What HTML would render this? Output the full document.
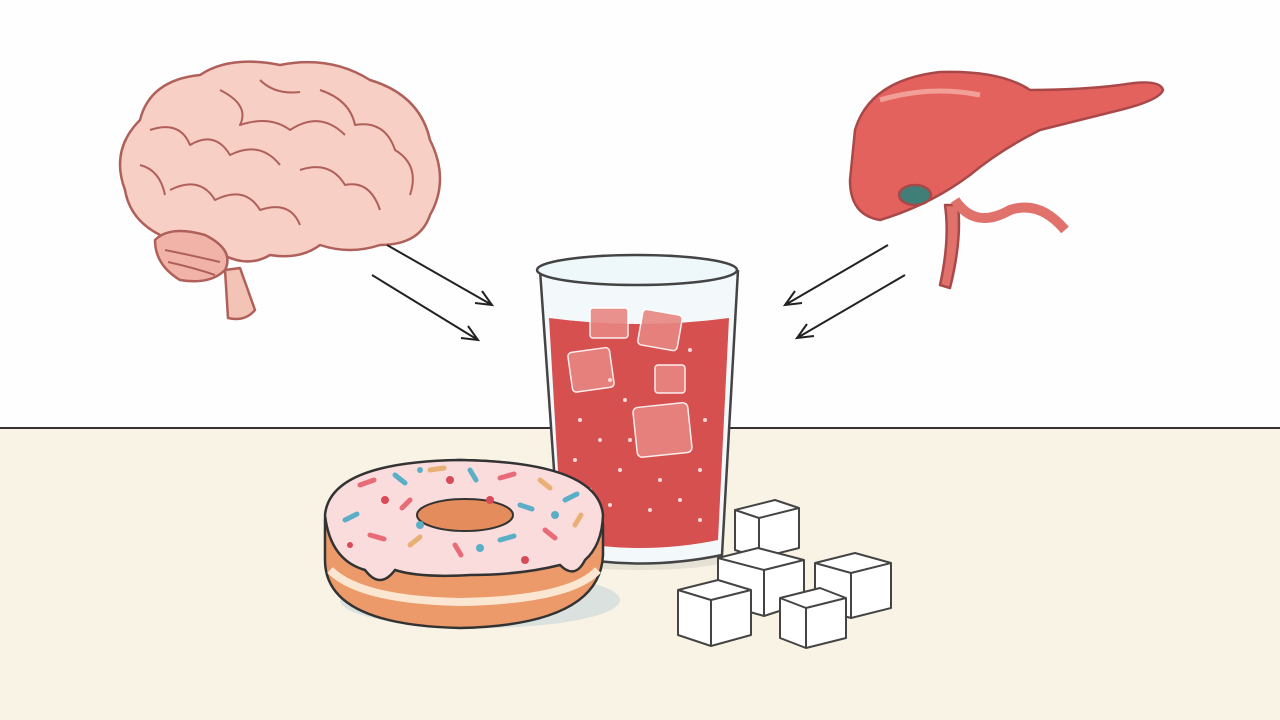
<!DOCTYPE html>
<html><head><meta charset="utf-8"><style>
html,body{margin:0;padding:0;width:1280px;height:720px;overflow:hidden;background:#fff}
</style></head><body>
<svg width="1280" height="720" viewBox="0 0 1280 720" xmlns="http://www.w3.org/2000/svg">
<rect x="0" y="0" width="1280" height="428" fill="#fefefe"/>
<rect x="0" y="428" width="1280" height="292" fill="#f8f3e4"/>
<line x1="0" y1="428" x2="1280" y2="428" stroke="#333" stroke-width="2"/>

<!-- Brain -->
<g stroke="#b0605a" stroke-width="2.5" fill="#f7cfc4" stroke-linejoin="round">
<path d="M225 270 L240 268 L255 310 Q245 322 228 318 Z" fill="#f3c3b6"/>
<path d="M125 190 Q110 150 140 120 Q150 80 200 75 Q230 55 280 65 Q330 55 370 80 Q420 95 430 140 Q450 180 430 215 Q420 245 380 245 Q350 255 320 245 Q300 260 270 255 Q245 270 215 250 Q180 250 160 235 Q130 220 125 190 Z"/>
<path d="M155 240 Q170 225 205 235 Q235 250 225 270 Q210 285 180 280 Q155 265 155 240 Z" fill="#f1b3a8"/>
<g fill="none" stroke-width="2">
<path d="M150 130 Q180 120 190 145 Q215 130 230 155 Q260 140 280 165"/>
<path d="M170 190 Q200 175 215 200 Q245 185 260 210 Q290 200 300 225"/>
<path d="M220 90 Q250 105 240 125 Q270 115 290 130 Q320 110 345 135"/>
<path d="M320 90 Q350 100 355 125 Q385 120 395 150 Q420 165 410 195"/>
<path d="M300 170 Q330 160 345 185 Q370 180 380 210"/>
<path d="M140 165 Q160 170 165 195"/>
<path d="M260 80 Q275 95 300 92"/>
<path d="M165 250 Q190 255 220 262 M168 262 Q195 268 215 275"/>
</g>
</g>

<!-- Liver / pancreas -->
<g stroke="#a94848" stroke-width="2.5" stroke-linejoin="round">
<path d="M945 205 Q950 240 940 285 L950 288 Q962 240 958 205 Z" fill="#e0716b"/>
<path d="M955 200 Q975 230 1010 210 Q1040 200 1065 230" fill="none" stroke="#e0716b" stroke-width="10"/>
<path d="M855 130 Q870 80 940 72 Q1000 70 1030 90 Q1080 90 1120 85 Q1160 78 1163 90 Q1160 100 1120 110 Q1080 120 1040 130 Q1000 150 970 175 Q930 205 880 220 Q850 215 850 180 Z" fill="#e3625e"/>
<ellipse cx="915" cy="195" rx="16" ry="10" fill="#3f7f77"/>
<path d="M880 100 Q930 85 980 95" fill="none" stroke="#f29f98" stroke-width="5"/>
</g>

<!-- Arrows -->
<g stroke="#222" stroke-width="2" fill="none">
<path d="M387 245 L492 305 M475 303 L492 305 L482 291"/>
<path d="M372 275 L478 340 M461 338 L478 340 L468 326"/>
<path d="M888 245 L785 305 M802 303 L785 305 L795 291"/>
<path d="M905 275 L797 338 M814 336 L797 338 L807 324"/>
</g>

<!-- Glass -->
<ellipse cx="640" cy="560" rx="85" ry="10" fill="#d9d5cc" opacity="0.6"/>
<path d="M540 270 L560 555 Q640 572 722 555 L738 270" fill="#f3f9fb" stroke="#444" stroke-width="2.5"/>
<path d="M549 318 L562 540 Q640 556 718 540 L729 318 Q640 330 549 318 Z" fill="#d6504f"/>
<ellipse cx="637" cy="270" rx="100" ry="15" fill="#eef7fa" stroke="#444" stroke-width="2.5"/>
<g fill="#f2a9a5" opacity="0.9" stroke="#fff" stroke-width="1.5">
<rect x="570" y="350" width="42" height="40" rx="4" transform="rotate(-8 590 370)" fill="#e88682"/>
<rect x="640" y="312" width="40" height="36" rx="4" transform="rotate(10 660 330)" fill="#e88682"/>
<rect x="635" y="405" width="55" height="50" rx="5" transform="rotate(-6 662 430)" fill="#e88682"/>
<rect x="655" y="365" width="30" height="28" rx="3" fill="#e88682"/>
<rect x="590" y="308" width="38" height="30" rx="3" fill="#e88682"/>
</g>
<g fill="#fbd8d6">
<circle cx="580" cy="420" r="2"/><circle cx="600" cy="440" r="2"/><circle cx="620" cy="470" r="2"/><circle cx="590" cy="490" r="2"/><circle cx="610" cy="505" r="2"/><circle cx="660" cy="480" r="2"/><circle cx="680" cy="500" r="2"/><circle cx="700" cy="470" r="2"/><circle cx="705" cy="420" r="2"/><circle cx="625" cy="400" r="2"/><circle cx="575" cy="460" r="2"/><circle cx="650" cy="510" r="2"/><circle cx="690" cy="350" r="2"/><circle cx="610" cy="380" r="2"/><circle cx="700" cy="520" r="2"/><circle cx="630" cy="440" r="2"/>
</g>

<!-- Donut -->
<ellipse cx="480" cy="600" rx="140" ry="28" fill="#cfd8dc" opacity="0.7"/>
<path d="M325 520 Q325 465 460 460 Q600 462 603 525 L603 555 Q600 625 460 628 Q325 625 325 560 Z" fill="#ec9a6a" stroke="#333" stroke-width="2.5"/>
<path d="M330 570 Q360 600 460 602 Q570 600 598 570" fill="none" stroke="#fbe6d2" stroke-width="8"/>
<path d="M325 515 Q330 462 460 460 Q598 462 603 515 Q602 545 585 560 Q575 580 560 565 Q520 575 470 575 Q420 578 395 570 Q380 590 365 570 Q330 560 325 515 Z" fill="#fbdcdc" stroke="#333" stroke-width="2.5"/>
<ellipse cx="465" cy="515" rx="48" ry="16" fill="#e58c5c" stroke="#333" stroke-width="2"/>
<g stroke-width="5" stroke-linecap="round">
<path d="M360 485 l14 -5" stroke="#e86b78"/><path d="M395 475 l10 8" stroke="#5aaec6"/><path d="M430 470 l14 -2" stroke="#e8b074"/>
<path d="M470 470 l6 10" stroke="#5aaec6"/><path d="M500 478 l14 -4" stroke="#e86b78"/><path d="M540 480 l10 8" stroke="#e8b074"/>
<path d="M565 500 l12 -6" stroke="#5aaec6"/><path d="M345 520 l12 -6" stroke="#5aaec6"/><path d="M370 535 l14 4" stroke="#e86b78"/>
<path d="M410 545 l10 -8" stroke="#e8b074"/><path d="M455 545 l6 10" stroke="#e86b78"/><path d="M500 540 l14 -4" stroke="#5aaec6"/>
<path d="M545 530 l10 8" stroke="#e86b78"/><path d="M575 525 l6 -10" stroke="#e8b074"/><path d="M410 500 l-8 8" stroke="#e86b78"/>
<path d="M520 505 l12 4" stroke="#5aaec6"/>
</g>
<g fill="#d84a58"><circle cx="385" cy="500" r="4"/><circle cx="490" cy="500" r="4"/><circle cx="450" cy="480" r="4"/><circle cx="525" cy="560" r="4"/><circle cx="350" cy="545" r="3"/></g>
<g fill="#5aaec6"><circle cx="420" cy="525" r="4"/><circle cx="555" cy="515" r="4"/><circle cx="480" cy="548" r="4"/><circle cx="420" cy="470" r="3"/></g>

<!-- Sugar cubes -->
<g stroke="#444" stroke-width="2" stroke-linejoin="round">
<g transform="translate(735,500)"><path d="M0 10 L40 0 L64 8 L64 48 L24 58 L0 50 Z" fill="#fff"/><path d="M0 10 L24 18 L64 8 M24 18 L24 58" fill="none"/></g>
<g transform="translate(718,548)"><path d="M0 10 L40 0 L86 12 L86 55 L46 68 L0 55 Z" fill="#fff"/><path d="M0 10 L46 22 L86 12 M46 22 L46 68" fill="none"/></g>
<g transform="translate(815,553)"><path d="M0 10 L40 0 L76 10 L76 55 L36 65 L0 55 Z" fill="#fff"/><path d="M0 10 L36 20 L76 10 M36 20 L36 65" fill="none"/></g>
<g transform="translate(678,580)"><path d="M0 10 L40 0 L73 10 L73 55 L33 66 L0 55 Z" fill="#fff"/><path d="M0 10 L33 20 L73 10 M33 20 L33 66" fill="none"/></g>
<g transform="translate(780,588)"><path d="M0 10 L40 0 L66 10 L66 50 L26 60 L0 50 Z" fill="#fff"/><path d="M0 10 L26 20 L66 10 M26 20 L26 60" fill="none"/></g>
</g>
</svg>
</body></html>
